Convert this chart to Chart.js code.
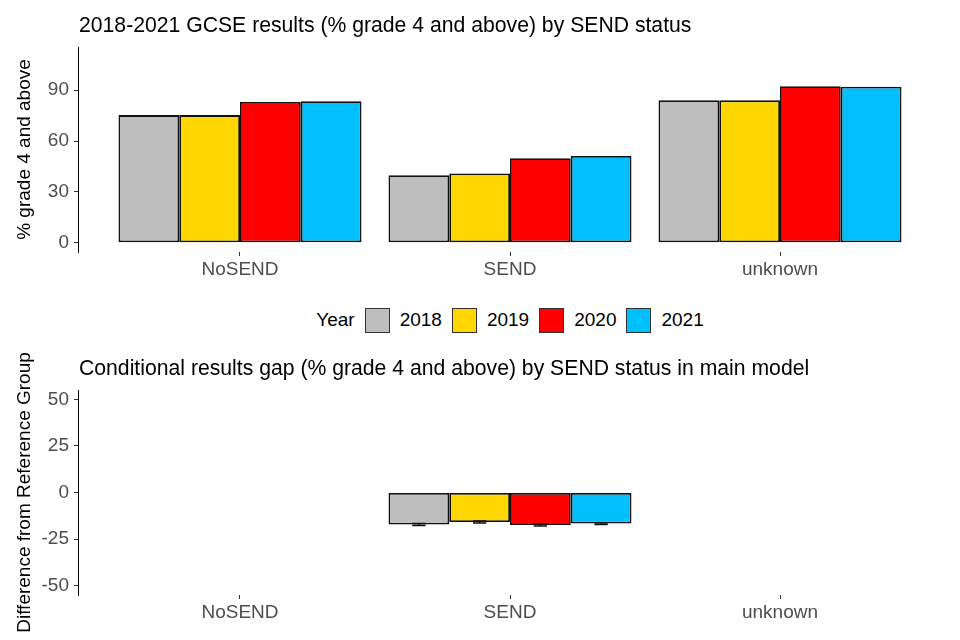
<!DOCTYPE html>
<html>
<head>
<meta charset="utf-8">
<script src="https://cdn.jsdelivr.net/npm/chart.js@4.4.0/dist/chart.umd.min.js"></script>
<style>
    body { margin: 0; background: #fff; font-family: "Liberation Sans", Arial, sans-serif; }
    #page { position: relative; width: 960px; height: 640px; overflow: hidden; }
    .wrap { position: absolute; left: 0; width: 960px; height: 290px; }
    .title { position: absolute; left: 79px; font-size: 21.2px; line-height: 24px; color: #000; white-space: nowrap; }
    #legend { position: absolute; top: 307px; left: 0; width: 1020px; height: 26px;
              display: flex; justify-content: center; align-items: center; font-size: 19px; color: #000; }
    #legend .key { width: 23px; height: 23px; border: 1.5px solid #333; margin: 0 10px; }
</style>
</head>
<body>
<div id="page">
    <div class="wrap" style="top:0"><canvas id="topChart"></canvas></div>
    <div class="title" style="top:13px">2018-2021 GCSE results (% grade 4 and above) by SEND status</div>
    <div id="legend"></div>
    <div class="wrap" style="top:350px"><canvas id="bottomChart"></canvas></div>
    <div class="title" style="top:356px">Conditional results gap (% grade 4 and above) by SEND status in main model</div>
</div>
<script>
// ------------------------------
// Data
// ------------------------------
const categories = ['NoSEND', 'SEND', 'unknown'];
const years = ['2018', '2019', '2020', '2021'];
const yearColours = ['#BEBEBE', '#FFD700', '#FF0000', '#00BFFF'];

// % grade 4 and above, per year, by SEND status
const pct2018 = [75.3, 39.8, 84.0];
const pct2019 = [75.3, 40.8, 84.0];
const pct2020 = [83.1, 49.8, 92.4];
const pct2021 = [83.5, 51.2, 92.0];

// conditional gap from the reference group (only SEND estimated)
const gap2018 = [null, -17.2, null];
const gap2019 = [null, -15.8, null];
const gap2020 = [null, -17.5, null];
const gap2021 = [null, -16.7, null];
// half-width of the error bars
const gapErr2018 = [null, 0.5, null];
const gapErr2019 = [null, 0.5, null];
const gapErr2020 = [null, 0.5, null];
const gapErr2021 = [null, 0.5, null];

const topTicks = [0, 30, 60, 90];
const bottomTicks = [-50, -25, 0, 25, 50];

Chart.defaults.font.family = '"Liberation Sans", Arial, sans-serif';

// ------------------------------
// Legend (HTML, built from the year arrays)
// ------------------------------
const legendEl = document.getElementById('legend');
legendEl.innerHTML = '<span>Year</span>' + years.map((y, i) =>
    `<span class="key" style="background:${yearColours[i]}"></span><span>${y}</span>`).join('');

// ------------------------------
// Error bar plugin: draws whiskers through the y scale
// ------------------------------
const errorBars = {
    id: 'errorBars',
    afterDatasetsDraw(chart, args, opts) {
        if (!opts.errors) return;
        const ctx = chart.ctx;
        const yScale = chart.scales.y;
        chart.data.datasets.forEach((ds, i) => {
            const meta = chart.getDatasetMeta(i);
            meta.data.forEach((bar, j) => {
                const v = ds.data[j].y;
                const e = opts.errors[i][j];
                if (v == null || e == null) return;
                const top = yScale.getPixelForValue(v + e);
                const bot = yScale.getPixelForValue(v - e);
                const half = bar.width * 0.11;
                ctx.save();
                ctx.strokeStyle = '#111';
                ctx.lineWidth = 1.5;
                ctx.beginPath();
                ctx.moveTo(bar.x - half, top); ctx.lineTo(bar.x + half, top);
                ctx.moveTo(bar.x, top); ctx.lineTo(bar.x, bot);
                ctx.moveTo(bar.x - half, bot); ctx.lineTo(bar.x + half, bot);
                ctx.stroke();
                ctx.restore();
            });
        });
    }
};

function makeDatasets(seriesList) {
    return seriesList.map((vals, i) => ({
        label: years[i],
        data: categories.map((c, k) => ({ x: k + 1, y: vals[k] })),
        backgroundColor: yearColours[i],
        borderColor: '#111',
        borderWidth: 1.8,
        borderSkipped: false,
        categoryPercentage: 0.9,
        barPercentage: 1.0
    }));
}

function makeChart(id, seriesList, yMin, yMax, yTicks, yTitle, xHeight, padTop, errors) {
    return new Chart(document.getElementById(id), {
        type: 'bar',
        data: { datasets: makeDatasets(seriesList) },
        plugins: [errorBars],
        options: {
            responsive: true,
            maintainAspectRatio: false,
            animation: false,
            layout: { padding: { top: padTop, right: 18, bottom: 0, left: 0 } },
            plugins: {
                legend: { display: false },
                tooltip: { enabled: false },
                errorBars: { errors: errors }
            },
            scales: {
                x: {
                    type: 'linear',
                    min: 0.4,
                    max: 3.6,
                    offset: false,
                    afterBuildTicks: s => { s.ticks = categories.map((c, k) => ({ value: k + 1 })); },
                    afterFit: s => { s.height = xHeight; },
                    border: { display: false },
                    grid: { offset: false, drawOnChartArea: false, drawTicks: true, tickLength: 4, color: '#333' },
                    ticks: {
                        autoSkip: false, maxRotation: 0, padding: 2,
                        color: '#4D4D4D', font: { size: 19 },
                        callback: v => categories[v - 1]
                    }
                },
                y: {
                    min: yMin,
                    max: yMax,
                    afterBuildTicks: s => { s.ticks = yTicks.map(v => ({ value: v })); },
                    afterFit: s => { s.width = 78; },
                    border: { display: true, color: '#000', width: 1 },
                    grid: { drawOnChartArea: false, drawTicks: true, tickLength: 4, color: '#333' },
                    ticks: { padding: 5, color: '#4D4D4D', font: { size: 19 } },
                    title: { display: true, text: yTitle, color: '#000', font: { size: 19 }, padding: { top: 13, bottom: 0 } }
                }
            }
        }
    });
}

makeChart('topChart', [pct2018, pct2019, pct2020, pct2021],
    -5.5, 115.5, topTicks, '% grade 4 and above', 38, 47, null);
makeChart('bottomChart', [gap2018, gap2019, gap2020, gap2021],
    -55, 55, bottomTicks, 'Difference from Reference Group', 45, 40,
    [gapErr2018, gapErr2019, gapErr2020, gapErr2021]);
</script>
</body>
</html>
